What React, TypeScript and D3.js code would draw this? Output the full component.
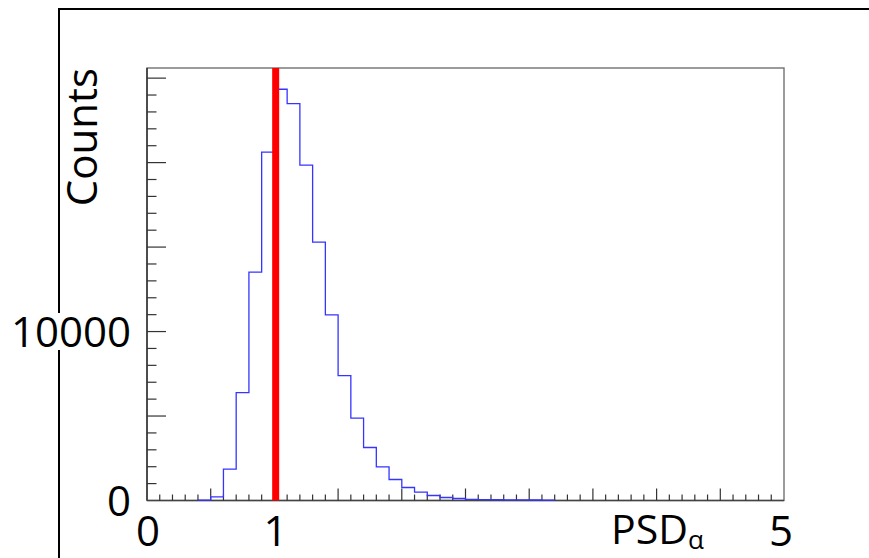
import React from "react";
import * as d3 from "d3";

// Histogram of PSD_alpha, bin width 0.1 from 0 to 5
const binWidth = 0.1;
const firstBin = 4;
const counts = [
  20, 220, 1860, 6390, 13515, 20615, 24343, 23490, 19846, 15290,
  10988, 7396, 4876, 3136, 1994, 1243, 769, 497, 296, 178,
  118, 70, 55, 45, 40, 35, 30, 25,
];
const xTickLabels = [
  { v: 0, t: "0" },
  { v: 1, t: "1" },
  { v: 5, t: "5" },
];
const yTickLabels = [
  { v: 0, t: "0" },
  { v: 10000, t: "10000" },
];
const cutValue = 1.01;
const xDomain = [0, 5];
const yMax = 25600;

const W = 869;
const H = 558;
const FONT = "'Open Sans', 'DejaVu Sans', sans-serif";

export default function App() {
  const x = d3.scaleLinear().domain(xDomain).range([147, 784]);
  const y = d3.scaleLinear().domain([0, yMax]).range([500.5, 68]);

  const pts: [number, number][] = [[firstBin * binWidth, 0]];
  counts.forEach((c, i) => pts.push([(firstBin + i) * binWidth, c]));
  const endX = (firstBin + counts.length) * binWidth;
  pts.push([endX, counts[counts.length - 1]]);
  pts.push([endX, 0]);
  const line = d3
    .line<[number, number]>()
    .x((d) => x(d[0]))
    .y((d) => y(d[1]))
    .curve(d3.curveStepAfter);

  const xTicks = d3.range(1, 50).map((i) => ({ v: i / 10, major: i % 5 === 0 }));
  const yTicks = d3.range(1, 26).map((i) => ({ v: i * 1000, major: i % 5 === 0 }));

  const x0 = x(0);
  const x1 = x(5);
  const y0 = y(0);
  const yT = y(yMax);

  return (
    <svg
      width={W}
      height={H}
      style={{ position: "fixed", left: 0, top: 0, background: "#fff" }}
      fontFamily={FONT}
    >
      <rect x={0} y={0} width={W} height={H} fill="#fff" />
      {/* outer frame */}
      <polyline points={`59,${H} 59,9 ${W},9`} fill="none" stroke="#000" strokeWidth={2} />

      {/* plot frame */}
      <rect x={x0} y={yT} width={x1 - x0} height={y0 - yT} fill="none" stroke="#666" strokeWidth={1.3} />
      <line x1={x0} x2={x0} y1={yT} y2={y0} stroke="#222" strokeWidth={1.3} />
      <line x1={x0} x2={x1} y1={y0} y2={y0} stroke="#444" strokeWidth={1.3} />

      {/* y ticks */}
      {yTicks.map((t) => (
        <line
          key={"y" + t.v}
          x1={x0}
          x2={x0 + (t.major ? 19 : 9.5)}
          y1={y(t.v)}
          y2={y(t.v)}
          stroke="#333"
          strokeWidth={1.2}
        />
      ))}
      {/* x ticks */}
      {xTicks.map((t) => (
        <line
          key={"x" + t.v}
          x1={x(t.v)}
          x2={x(t.v)}
          y1={y0}
          y2={y0 - (t.major ? 12 : 6)}
          stroke="#333"
          strokeWidth={1.2}
        />
      ))}

      {/* histogram */}
      <path d={line(pts) || ""} fill="none" stroke="#3535ff" strokeWidth={1.3} />

      {/* cut line */}
      <line x1={x(cutValue)} x2={x(cutValue)} y1={yT} y2={y0} stroke="#ff0000" strokeWidth={7} />

      {/* y title */}
      <rect x={62} y={64} width={40} height={148} fill="#fff" />
      <text
        transform={`translate(97,68) rotate(-90)`}
        textAnchor="end"
        fontSize={42}
        fill="#000"
      >
        Counts
      </text>

      {/* y labels */}
      <rect x={10} y={313} width={122} height={37} fill="#fff" />
      {yTickLabels.map((t) => (
        <text
          key={"yl" + t.v}
          x={131}
          y={y(t.v) + 15}
          textAnchor="end"
          fontSize={42}
          fill="#000"
        >
          {t.t}
        </text>
      ))}

      {/* x labels */}
      {xTickLabels.map((t) => (
        <text
          key={"xl" + t.v}
          x={x(t.v) + (t.v === 5 ? -3 : 1)}
          y={546}
          textAnchor="middle"
          fontSize={42}
          fill="#000"
        >
          {t.t}
        </text>
      ))}

      {/* x title */}
      <text x={611} y={544} fontSize={41} fill="#000">
        PSD
        <tspan fontSize={26} dy={5}>
          α
        </tspan>
      </text>
    </svg>
  );
}
